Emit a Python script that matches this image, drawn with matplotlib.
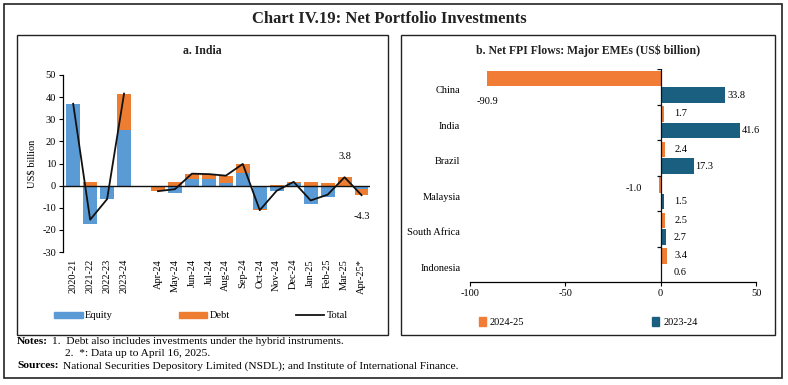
import matplotlib
matplotlib.use("Agg")
import matplotlib.pyplot as plt
import numpy as np
from matplotlib.patches import Rectangle, Patch
from matplotlib.lines import Line2D

plt.rcParams['font.family'] = ['Liberation Serif', 'DejaVu Serif']
plt.rcParams['axes.unicode_minus'] = False

# ---------- Panel a data ----------
periods = ["2020-21", "2021-22", "2022-23", "2023-24", "",
           "Apr-24", "May-24", "Jun-24", "Jul-24", "Aug-24", "Sep-24",
           "Oct-24", "Nov-24", "Dec-24", "Jan-25", "Feb-25", "Mar-25", "Apr-25*"]
equity = [37.0, -17.2, -6.1, 25.3, np.nan,
          -0.8, -3.2, 3.0, 3.2, 1.2, 5.7,
          -10.6, -2.6, 1.4, -8.5, -5.3, 0.0, -1.5]
debt = [0.0, 1.8, 0.0, 16.3, np.nan,
        -1.7, 1.6, 2.4, 2.1, 3.3, 4.1,
        -0.5, 0.3, 0.3, 1.8, 1.2, 3.8, -2.8]
total = [37.0, -15.4, -6.1, 41.6, np.nan,
         -2.5, -1.6, 5.4, 5.2, 4.5, 9.8,
         -11.1, -2.3, 1.7, -6.7, -4.1, 3.8, -4.3]
yticks_a = [-30, -20, -10, 0, 10, 20, 30, 40, 50]

# ---------- Panel b data ----------
countries = ["China", "India", "Brazil", "Malaysia", "South Africa", "Indonesia"]
fy2425 = [-90.9, 1.7, 2.4, -1.0, 2.5, 3.4]
fy2324 = [33.8, 41.6, 17.3, 1.5, 2.7, 0.6]
xticks_b = [-100, -50, 0, 50]

C_EQ = "#5B9BD5"
C_DEBT = "#ED7D31"
C_2425 = "#F07C35"
C_2324 = "#1B5F80"

W, H = 788, 385
fig = plt.figure(figsize=(W / 100, H / 100), dpi=100)

def fx(px):
    return px / W

def fy(py):
    return 1 - py / H

# boxes
fig.patches.append(Rectangle((fx(4), fy(378)), fx(778), (378 - 4) / H, transform=fig.transFigure,
                             fill=False, lw=1.2, ec="#222222"))
fig.patches.append(Rectangle((fx(17), fy(335)), fx(371), (335 - 35) / H, transform=fig.transFigure,
                             fill=False, lw=1.0, ec="#222222"))
fig.patches.append(Rectangle((fx(401), fy(335)), fx(374), (335 - 35) / H, transform=fig.transFigure,
                             fill=False, lw=1.0, ec="#222222"))

fig.text(fx(389), fy(19), "Chart IV.19: Net Portfolio Investments", ha="center", va="center",
         fontsize=12, fontweight="bold", color="#222222")
fig.text(fx(202), fy(51), "a. India", ha="center", va="center", fontsize=8.5,
         fontweight="bold", color="#222222")
fig.text(fx(588), fy(51), "b. Net FPI Flows: Major EMEs (US$ billion)", ha="center",
         va="center", fontsize=8.5, fontweight="bold", color="#222222")

# ---------- Panel a ----------
axa = fig.add_axes([fx(63), fy(252), fx(370 - 63), (252 - 75) / H])
x = np.arange(len(periods))
eq = np.array(equity, dtype=float)
db = np.array(debt, dtype=float)
bw = 0.82
axa.bar(x, eq, bw, color=C_EQ, zorder=2)
db_bottom = np.where(np.sign(db) == np.sign(eq), eq, 0.0)
axa.bar(x, db, bw, bottom=db_bottom, color=C_DEBT, zorder=2)
axa.plot(x, total, color="#111111", lw=1.3, zorder=3)
axa.axhline(0, color="#111111", lw=1.0, zorder=4)
axa.set_xlim(-0.6, len(periods) - 0.5)
axa.set_ylim(-30, 50)
axa.set_yticks(yticks_a)
axa.set_xticks([i for i, p in enumerate(periods) if p])
axa.set_xticklabels([p for p in periods if p], rotation=90, fontsize=7.5)
axa.tick_params(axis="x", length=0, pad=5)
axa.tick_params(axis="y", labelsize=7.5, length=3, direction="out", pad=2)
for s in ["top", "right", "bottom"]:
    axa.spines[s].set_visible(False)
axa.spines["left"].set_linewidth(0.9)
axa.set_ylabel("US$ billion", fontsize=7.5, labelpad=4)
i_mar = periods.index("Mar-25")
i_apr = periods.index("Apr-25*")
axa.annotate(f"{total[i_mar]:.1f}", (x[i_mar], total[i_mar]), xytext=(0, 12),
             textcoords="offset points", ha="center", va="bottom", fontsize=7.5)
axa.annotate(f"{total[i_apr]:.1f}", (x[i_apr], total[i_apr]), xytext=(0, -12),
             textcoords="offset points", ha="center", va="top", fontsize=7.5)

fig.legend(handles=[Patch(color=C_EQ, label="Equity"), Patch(color=C_DEBT, label="Debt"),
                    Line2D([], [], color="#111111", lw=1.3, label="Total")],
           loc="center", bbox_to_anchor=(fx(201), fy(316)), ncol=3, frameon=False,
           fontsize=7.5, handlelength=2.7, handleheight=0.6, columnspacing=6.4,
           handletextpad=0.2)

# ---------- Panel b ----------
axb = fig.add_axes([fx(470), fy(282), fx(756 - 470), (282 - 69) / H])
y = np.arange(len(countries))
bh = 0.44
off = 0.235
axb.barh(y - off, fy2425, bh, color=C_2425, zorder=2)
axb.barh(y + off, fy2324, bh, color=C_2324, zorder=2)
axb.set_xlim(-100, 50)
axb.set_ylim(len(countries) - 0.5, -0.5)
axb.set_xticks(xticks_b)
axb.set_yticks(y + 0.08)
axb.set_yticklabels(countries, fontsize=7.5)
axb.tick_params(axis="y", length=0, pad=7)
axb.tick_params(axis="x", labelsize=7.5, length=3, direction="out", pad=2)
for s in ["top", "right", "left"]:
    axb.spines[s].set_visible(False)
axb.spines["bottom"].set_linewidth(0.9)
axb.axvline(0, color="#111111", lw=0.9, zorder=3)
bounds = np.arange(len(countries) + 1) - 0.5
axb.hlines(bounds[:-1], -1.8, 0, color="#111111", lw=0.9, zorder=3)

for yi, v in zip(y, fy2425):
    if v >= 0:
        axb.text(max(v, 6) + 1.2, yi - off, f"{v:.1f}", ha="left", va="center", fontsize=7.5)
    else:
        dy = 0.66 if abs(v) > 50 else 0.1
        axb.text(min(v, -14), yi - off + dy, f"{v:.1f}", ha="center", va="center", fontsize=7.5)
for yi, v in zip(y, fy2324):
    axb.text(max(v, 6) + 1.0, yi + off, f"{v:.1f}", ha="left", va="center", fontsize=7.5)

fig.legend(handles=[Patch(color=C_2425, label="2024-25"), Patch(color=C_2324, label="2023-24")],
           loc="center", bbox_to_anchor=(fx(588), fy(322)), ncol=2, frameon=False,
           fontsize=7.5, handlelength=0.7, handleheight=0.9, columnspacing=12.2,
           handletextpad=0.4)

# ---------- Notes ----------
fig.text(fx(17), fy(341), "Notes:", fontweight="bold", fontsize=8.2, va="center")
fig.text(fx(52), fy(341), "1.  Debt also includes investments under the hybrid instruments.",
         fontsize=8.2, va="center")
fig.text(fx(65), fy(353), "2.  *: Data up to April 16, 2025.", fontsize=8.2, va="center")
fig.text(fx(17), fy(366), "Sources:", fontweight="bold", fontsize=8.2, va="center")
fig.text(fx(63), fy(366), "National Securities Depository Limited (NSDL); and Institute of International Finance.",
         fontsize=8.2, va="center")

fig.savefig("out.png", dpi=100)
